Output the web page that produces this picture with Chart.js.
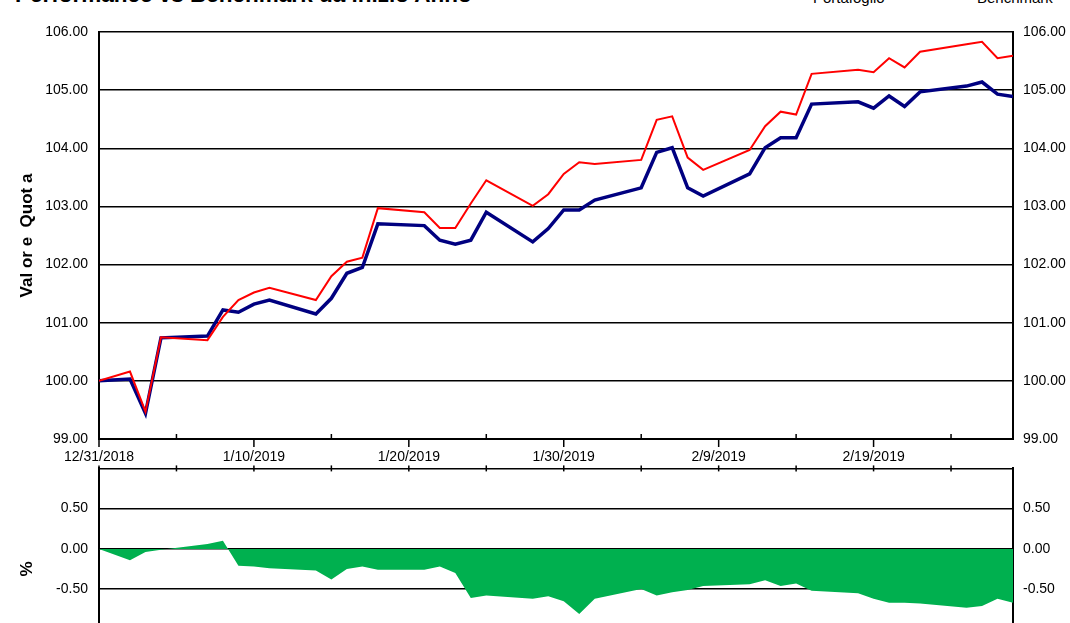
<!DOCTYPE html>
<html>
<head>
<meta charset="utf-8">
<script src="https://cdn.jsdelivr.net/npm/chart.js@4.4.1/dist/chart.umd.min.js"></script>
<style>
  html, body { margin: 0; padding: 0; background: #fff; overflow: hidden; width: 1070px; height: 623px; }
  body { position: relative; font-family: "Liberation Sans", Arial, sans-serif; color: #000; }
  #title { position: absolute; left: 15px; top: -15.6px; font-size: 22.5px; font-weight: bold; line-height: 22.5px; white-space: nowrap; }
  .leg { position: absolute; top: -9.7px; font-size: 15px; line-height: 15px; white-space: nowrap; }
  #topChart { position: absolute; left: 0; top: 0; }
  #diffChart { position: absolute; left: 0; top: 449px; }
</style>
</head>
<body>
<div id="title">Performance vs Benchmark da inizio Anno</div>
<div class="leg" style="left:813px">Portafoglio</div>
<div class="leg" style="left:977px">Benchmark</div>
<canvas id="topChart" width="1070" height="470"></canvas>
<canvas id="diffChart" width="1070" height="240"></canvas>
<script>
// trading days
const dates = ['2018-12-31','2019-01-02','2019-01-03','2019-01-04','2019-01-07','2019-01-08','2019-01-09','2019-01-10','2019-01-11',
  '2019-01-14','2019-01-15','2019-01-16','2019-01-17','2019-01-18','2019-01-21','2019-01-22','2019-01-23','2019-01-24','2019-01-25',
  '2019-01-28','2019-01-29','2019-01-30','2019-01-31','2019-02-01','2019-02-04','2019-02-05','2019-02-06','2019-02-07','2019-02-08',
  '2019-02-11','2019-02-12','2019-02-13','2019-02-14','2019-02-15','2019-02-18','2019-02-19','2019-02-20','2019-02-21','2019-02-22',
  '2019-02-25','2019-02-26','2019-02-27','2019-02-28'];

const portfolio = [100.00, 100.03, 99.44, 100.74, 100.77, 101.22, 101.18, 101.32, 101.39,
  101.15, 101.42, 101.85, 101.95, 102.70, 102.67, 102.42, 102.35, 102.42, 102.90,
  102.39, 102.62, 102.94, 102.94, 103.11, 103.32, 103.93, 104.01, 103.32, 103.18,
  103.56, 104.01, 104.18, 104.18, 104.76, 104.80, 104.69, 104.90, 104.72, 104.97,
  105.07, 105.14, 104.93, 104.89];

const benchmark = [100.00, 100.16, 99.47, 100.75, 100.70, 101.10, 101.39, 101.52, 101.60,
  101.39, 101.80, 102.05, 102.12, 102.97, 102.90, 102.63, 102.63, 103.05, 103.45,
  103.01, 103.21, 103.56, 103.76, 103.73, 103.80, 104.49, 104.55, 103.84, 103.63,
  103.97, 104.38, 104.63, 104.58, 105.28, 105.35, 105.31, 105.55, 105.39, 105.66,
  105.79, 105.83, 105.55, 105.59];

const difference = [0.00, -0.14, -0.04, -0.01, 0.06, 0.10, -0.21, -0.22, -0.24,
  -0.27, -0.38, -0.25, -0.22, -0.26, -0.26, -0.22, -0.30, -0.61, -0.58,
  -0.62, -0.59, -0.65, -0.81, -0.62, -0.50, -0.58, -0.54, -0.51, -0.46,
  -0.44, -0.39, -0.46, -0.43, -0.52, -0.55, -0.62, -0.67, -0.67, -0.68,
  -0.73, -0.71, -0.62, -0.67];

const lastDay = '2019-02-28';
const mainRange = [99, 106];
const diffRange = [-1.5, 1];

const DAY = 86400000;
const start = Date.parse(dates[0]);
const dayNum = d => Math.round((Date.parse(d) - start) / DAY);
const fmtDate = v => {
  const dt = new Date(start + v * DAY);
  return (dt.getUTCMonth() + 1) + '/' + dt.getUTCDate() + '/' + dt.getUTCFullYear();
};
const pts = arr => dates.map((d, i) => ({ x: dayNum(d), y: arr[i] }));

const family = '"Liberation Sans", Arial, sans-serif';
const tickFont = { family: family, size: 14 };
const titleFont = { family: family, size: 17, weight: 'bold' };

// major ticks point down, minor ticks point up (top chart); small crossing ticks on the lower chart
const tickMarks = mode => ({
  id: 'tickMarks',
  afterDraw(chart) {
    const { ctx, chartArea, scales } = chart;
    ctx.save();
    ctx.strokeStyle = '#000';
    ctx.lineWidth = 1.5;
    scales.x.ticks.forEach(t => {
      if (t.value % 5 !== 0) return;
      const x = scales.x.getPixelForValue(t.value);
      ctx.beginPath();
      if (mode === 'top') {
        const b = chartArea.bottom;
        if (t.value % 10 === 0) { ctx.moveTo(x, b); ctx.lineTo(x, b + 8); }
        else { ctx.moveTo(x, b); ctx.lineTo(x, b - 5); }
      } else {
        ctx.moveTo(x, chartArea.top - 3); ctx.lineTo(x, chartArea.top + 3);
      }
      ctx.stroke();
    });
    ctx.restore();
  }
});

new Chart(document.getElementById('topChart'), {
  type: 'line',
  data: {
    datasets: [
      { label: 'Benchmark', data: pts(benchmark), borderColor: '#FF0000', borderWidth: 2, pointRadius: 0, tension: 0, order: 0 },
      { label: 'Portafoglio', data: pts(portfolio), borderColor: '#000080', borderWidth: 3.5, pointRadius: 0, tension: 0, order: 1 }
    ]
  },
  options: {
    responsive: false,
    animation: false,
    layout: { autoPadding: false, padding: { top: 32, left: 0, right: 0, bottom: 0 } },
    plugins: { legend: { display: false }, tooltip: { enabled: false } },
    scales: {
      x: {
        type: 'linear', min: 0, max: dayNum(lastDay),
        afterFit: s => { s.height = 31; },
        grid: { drawOnChartArea: false, drawTicks: false },
        border: { color: '#000', width: 2 },
        ticks: { stepSize: 5, includeBounds: false, autoSkip: false, maxRotation: 0, padding: 10, color: '#000', font: tickFont,
          callback: v => v % 10 === 0 ? fmtDate(v) : '' }
      },
      y: {
        position: 'left', min: mainRange[0], max: mainRange[1],
        afterFit: s => { s.width = 99; },
        grid: { color: '#000', lineWidth: 1.5, drawTicks: false },
        border: { color: '#000', width: 2 },
        ticks: { stepSize: 1, padding: 11, color: '#000', font: tickFont, callback: v => v.toFixed(2) },
        title: { display: true, text: 'Val or e  Quot a', color: '#000', font: titleFont, padding: { top: 17, bottom: 0 } }
      },
      y2: {
        position: 'right', min: mainRange[0], max: mainRange[1],
        afterFit: s => { s.width = 57; },
        grid: { display: false, drawTicks: false },
        border: { color: '#000', width: 2 },
        ticks: { stepSize: 1, padding: 10, color: '#000', font: tickFont, callback: v => v.toFixed(2) }
      }
    }
  },
  plugins: [tickMarks('top')]
});

new Chart(document.getElementById('diffChart'), {
  type: 'line',
  data: {
    datasets: [
      { label: '%', data: pts(difference), fill: 'origin', backgroundColor: '#00B04F', borderColor: '#00B04F', borderWidth: 0, pointRadius: 0, tension: 0 }
    ]
  },
  options: {
    responsive: false,
    animation: false,
    layout: { autoPadding: false, padding: { top: 9, left: 0, right: 0, bottom: 11 } },
    plugins: { legend: { display: false }, tooltip: { enabled: false } },
    scales: {
      x: { type: 'linear', display: false, min: 0, max: dayNum(lastDay), ticks: { stepSize: 5, includeBounds: false } },
      y: {
        position: 'left', min: diffRange[0], max: diffRange[1],
        afterFit: s => { s.width = 99; },
        grid: { color: '#000', lineWidth: 1.5, drawTicks: false },
        border: { color: '#000', width: 2 },
        ticks: { stepSize: 0.5, padding: 11, color: '#000', font: tickFont, callback: v => Math.abs(v - 1) < 1e-9 ? '' : v.toFixed(2) },
        title: { display: true, text: '%', color: '#000', font: titleFont, padding: { top: 17, bottom: 0 } }
      },
      y2: {
        position: 'right', min: diffRange[0], max: diffRange[1],
        afterFit: s => { s.width = 57; },
        grid: { display: false, drawTicks: false },
        border: { color: '#000', width: 2 },
        ticks: { stepSize: 0.5, padding: 10, color: '#000', font: tickFont, callback: v => Math.abs(v - 1) < 1e-9 ? '' : v.toFixed(2) }
      }
    }
  },
  plugins: [tickMarks('bottom')]
});
</script>
</body>
</html>
